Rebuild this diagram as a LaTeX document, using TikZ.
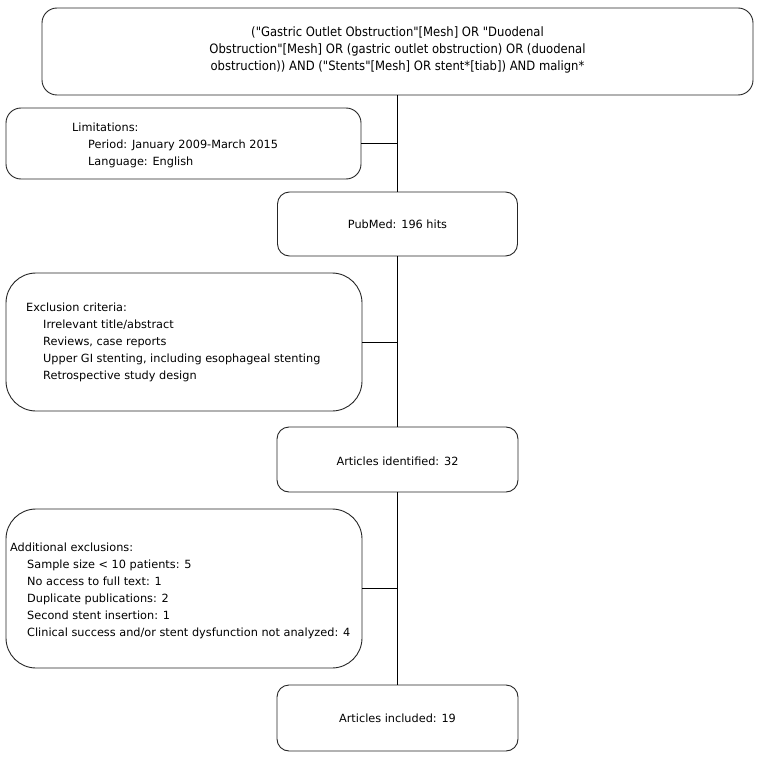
\documentclass[tikz,border=0pt]{standalone}
\usepackage{fontspec}
\setmainfont{DejaVu Sans}
\newfontfamily\condfont{DejaVu Sans Condensed}
\begin{document}
\begin{tikzpicture}[x=1pt,y=-1pt,
  box/.style={draw=black!85,line width=0.9pt,fill=white,rectangle,inner sep=0pt},
  txt/.style={inner sep=0pt,font=\fontsize{11.3}{17}\selectfont},
  toptxtstyle/.style={inner sep=0pt,font=\condfont\fontsize{12.9}{17}\selectfont},
  conn/.style={draw=black,line width=0.9pt}]
\useasboundingbox (0,0) rectangle (758,757);
% boxes
\node[box,rounded corners=15pt,minimum width=711pt,minimum height=87pt] (top) at (397.5,51.5) {};
\node[box,rounded corners=15pt,minimum width=355pt,minimum height=71pt] (lim) at (183.5,143.5) {};
\node[box,rounded corners=12pt,minimum width=240pt,minimum height=64pt] (pub) at (397.5,224) {};
\node[box,rounded corners=30pt,minimum width=356pt,minimum height=138pt] (excl) at (184,342) {};
\node[box,rounded corners=12pt,minimum width=241pt,minimum height=65pt] (ident) at (397.5,459.5) {};
\node[box,rounded corners=30pt,minimum width=356pt,minimum height=159pt] (addl) at (184,588.5) {};
\node[box,rounded corners=12pt,minimum width=241pt,minimum height=66pt] (incl) at (397.5,718) {};
% connectors
\draw[conn] (top.south) -- (pub.north);
\draw[conn] (pub.south) -- (ident.north);
\draw[conn] (ident.south) -- (incl.north);
\draw[conn] (lim.east) -- (lim.east -| top.south);
\draw[conn] (excl.east) -- (excl.east -| top.south);
\draw[conn] (addl.east) -- (addl.east -| top.south);
% texts (anchors at the baseline of the last line)
\node[toptxtstyle,align=center,anchor=base] (toptxt) at (397.5,71) {("Gastric Outlet Obstruction"[Mesh] OR "Duodenal\\Obstruction"[Mesh] OR (gastric outlet obstruction) OR (duodenal\\obstruction)) AND ("Stents"[Mesh] OR stent*[tiab]) AND malign*};
\node[txt,align=left,anchor=base west] (limtxt) at (72,165) {Limitations:\\\hspace{16pt}Period: January 2009-March 2015\\\hspace{16pt}Language: English};
\node[txt,anchor=center] (pubtxt) at (pub.center) {PubMed: 196 hits};
\node[txt,align=left,anchor=base west] (excltxt) at (26,379) {Exclusion criteria:\\\hspace{17pt}Irrelevant title/abstract\\\hspace{17pt}Reviews, case reports\\\hspace{17pt}Upper GI stenting, including esophageal stenting\\\hspace{17pt}Retrospective study design};
\node[txt,anchor=center] (identtxt) at ([yshift=-2pt]ident.center) {Articles identified: 32};
\node[txt,align=left,anchor=base west] (addltxt) at (10,636) {Additional exclusions:\\\hspace{17pt}Sample size {\textless} 10 patients: 5\\\hspace{17pt}No access to full text: 1\\\hspace{17pt}Duplicate publications: 2\\\hspace{17pt}Second stent insertion: 1\\\hspace{17pt}Clinical success and/or stent dysfunction not analyzed: 4};
\node[txt,anchor=center] (incltxt) at (incl.center) {Articles included: 19};
\end{tikzpicture}
\end{document}
